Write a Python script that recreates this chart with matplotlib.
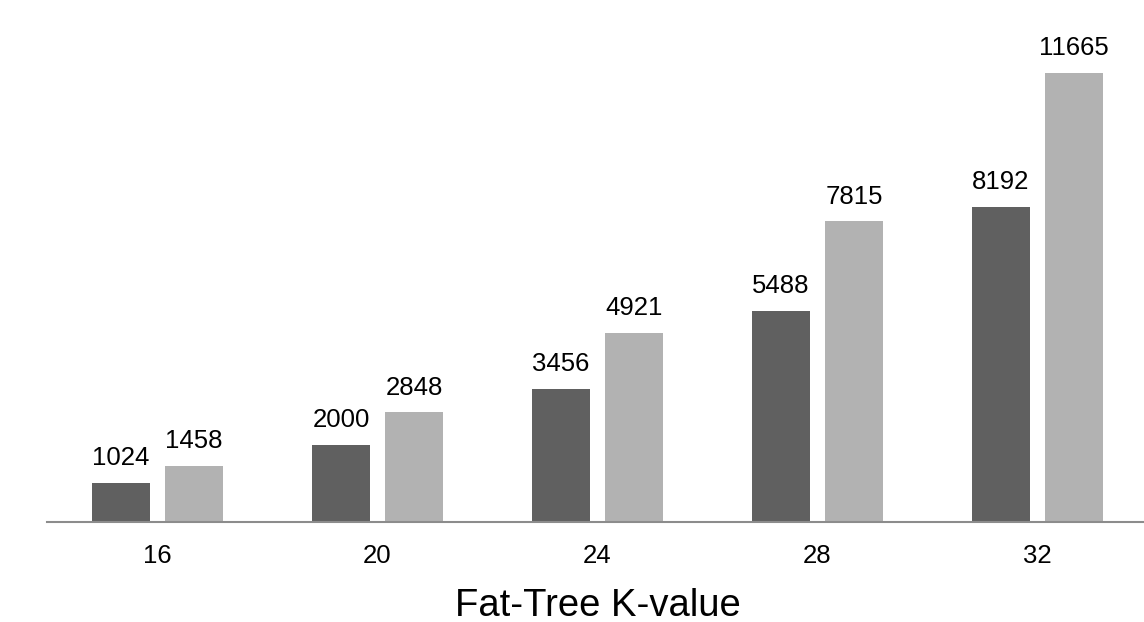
import matplotlib.pyplot as plt
import numpy as np

plt.rcParams['font.family'] = ['Liberation Sans', 'DejaVu Sans']

k_values = ['16', '20', '24', '28', '32']
series_a = [1024, 2000, 3456, 5488, 8192]
series_b = [1458, 2848, 4921, 7815, 11665]

fig = plt.figure(figsize=(11.44, 6.22), dpi=100)
ax = fig.add_axes([0.0415, 0.1608, 0.9615, 0.8392])

x = np.arange(len(k_values))
w = 0.2636
off = 0.166
bars_a = ax.bar(x - off, series_a, w, color='#606060')
bars_b = ax.bar(x + off, series_b, w, color='#b2b2b2')

for bars, vals in ((bars_a, series_a), (bars_b, series_b)):
    for b, v in zip(bars, vals):
        ax.annotate(str(v), (b.get_x() + b.get_width() / 2, v),
                    xytext=(0, 9), textcoords='offset points',
                    ha='center', va='bottom', fontsize=18.5, color='#000000')

ax.set_xlim(-0.5, 4.5)
ax.set_ylim(0, 13560)
ax.set_xticks(x)
ax.set_xticklabels(k_values, fontsize=18.5)
ax.tick_params(axis='x', length=0, pad=16)
ax.set_yticks([])
for s in ('top', 'right', 'left'):
    ax.spines[s].set_visible(False)
ax.spines['bottom'].set_color('#8c8c8c')
ax.spines['bottom'].set_linewidth(1.5)
ax.set_xlabel('Fat-Tree K-value', fontsize=27.5, labelpad=14)

fig.savefig('out.png', dpi=100)
